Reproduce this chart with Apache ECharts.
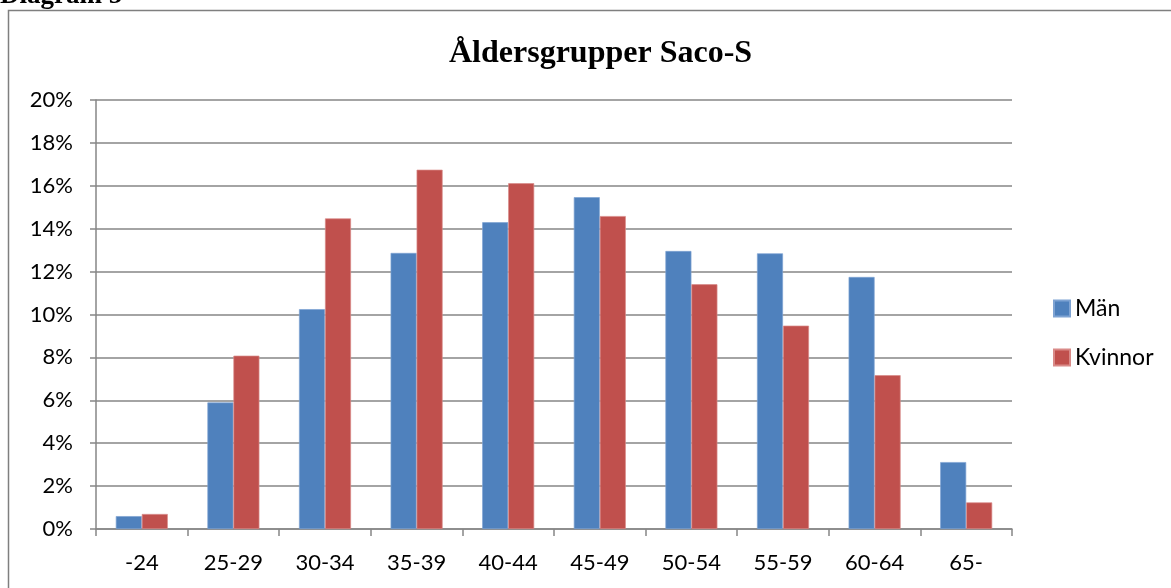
<!DOCTYPE html>
<html>
<head>
<meta charset="utf-8">
<script src="https://cdn.jsdelivr.net/npm/echarts@6/dist/echarts.min.js"></script>
<style>
  html, body { margin: 0; padding: 0; background: #fff; }
  #main { width: 1171px; height: 588px; }
</style>
</head>
<body>
<div id="main"></div>
<script>
var categories = ['-24', '25-29', '30-34', '35-39', '40-44', '45-49', '50-54', '55-59', '60-64', '65-'];
var man = [0.6, 5.9, 10.25, 12.87, 14.3, 15.47, 12.96, 12.85, 11.75, 3.12];
var kvinnor = [0.7, 8.08, 14.48, 16.75, 16.12, 14.59, 11.41, 9.48, 7.17, 1.24];
var yTicks = [0, 2, 4, 6, 8, 10, 12, 14, 16, 18, 20];

var myChart = echarts.init(document.getElementById('main'));
var labelFont = 'Lato, "Open Sans", sans-serif';

myChart.setOption({
  animation: false,
  graphic: [
    { type: 'rect', shape: { x: 8.5, y: 10.5, width: 1200, height: 620 },
      style: { fill: 'none', stroke: '#7f7f7f', lineWidth: 1.5 } },
    { type: 'text', x: 0, y: 10,
      style: { text: 'Diagram 5', font: 'bold 27px "Liberation Serif", serif', fill: '#000', verticalAlign: 'bottom' } }
  ],
  title: {
    text: 'Åldersgrupper Saco-S',
    left: 444,
    top: 33,
    textStyle: { fontFamily: '"Liberation Serif", serif', fontWeight: 'bold', fontSize: 32, color: '#000' }
  },
  legend: {
    orient: 'vertical',
    left: 1053,
    top: 297,
    padding: 0,
    itemWidth: 16,
    itemHeight: 16,
    itemGap: 26,
    icon: 'rect',
    textStyle: { fontFamily: labelFont, fontSize: 23, color: '#000' },
    data: ['Män', 'Kvinnor']
  },
  grid: { left: 96, right: 159, top: 100, bottom: 59, containLabel: false },
  xAxis: {
    type: 'category',
    data: categories,
    axisLine: { lineStyle: { color: '#868686', width: 1.5 } },
    axisTick: { show: true, length: 7, lineStyle: { color: '#868686', width: 1.5 } },
    axisLabel: { color: '#000', fontFamily: labelFont, fontSize: 22, margin: 23 }
  },
  yAxis: {
    type: 'value',
    min: yTicks[0],
    max: yTicks[yTicks.length - 1],
    interval: 2,
    axisLine: { show: true, lineStyle: { color: '#868686', width: 1.5 } },
    axisTick: { show: true, length: 6, lineStyle: { color: '#868686', width: 1.5 } },
    splitLine: { lineStyle: { color: '#868686', width: 1.5 } },
    axisLabel: { color: '#000', fontFamily: labelFont, fontSize: 22, margin: 23, formatter: '{value}%' }
  },
  series: [
    { name: 'Män', type: 'bar', data: man, barWidth: 26, barGap: '0%',
      itemStyle: { color: '#4F81BD', borderColor: '#7EA3D3', borderWidth: 0.7 } },
    { name: 'Kvinnor', type: 'bar', data: kvinnor, barWidth: 26,
      itemStyle: { color: '#C0504D', borderColor: '#D98A88', borderWidth: 0.7 } }
  ]
});
</script>
</body>
</html>
